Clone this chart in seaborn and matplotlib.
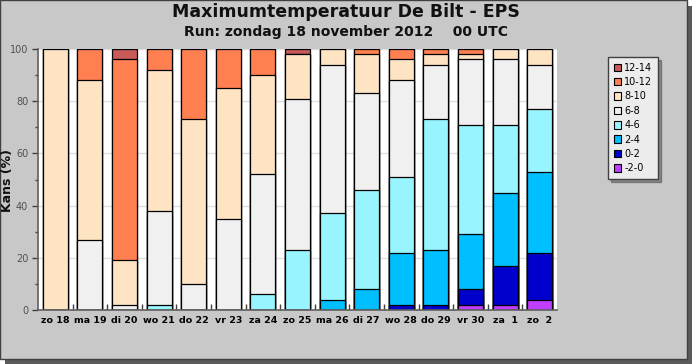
import numpy as np
import pandas as pd
import seaborn as sns
import matplotlib.pyplot as plt
from matplotlib.patches import Patch, Rectangle

days = ["zo 18", "ma 19", "di 20", "wo 21", "do 22", "vr 23", "za 24", "zo 25",
        "ma 26", "di 27", "wo 28", "do 29", "vr 30", "za  1", "zo  2"]

# probability (%) per temperature class, bottom class first
classes = ["-2-0", "0-2", "2-4", "4-6", "6-8", "8-10", "10-12", "12-14"]
c_m2_0 = [0, 0, 0, 0, 0, 0, 0, 0, 0, 0, 0, 0, 2, 2, 4]
c_0_2 = [0, 0, 0, 0, 0, 0, 0, 0, 0, 0, 2, 2, 6, 15, 18]
c_2_4 = [0, 0, 0, 0, 0, 0, 0, 0, 4, 8, 20, 21, 21, 28, 31]
c_4_6 = [0, 0, 0, 2, 0, 0, 6, 23, 33, 38, 29, 50, 42, 26, 24]
c_6_8 = [0, 27, 2, 36, 10, 35, 46, 58, 57, 37, 37, 21, 25, 25, 17]
c_8_10 = [100, 61, 17, 54, 63, 50, 38, 17, 6, 15, 8, 4, 2, 4, 6]
c_10_12 = [0, 12, 77, 8, 27, 15, 10, 0, 0, 2, 4, 2, 2, 0, 0]
c_12_14 = [0, 0, 4, 0, 0, 0, 0, 2, 0, 0, 0, 0, 0, 0, 0]

colors = ["#bf3eff", "#0000cd", "#00bfff", "#98f5ff", "#f0f0f0",
          "#ffe4c4", "#ff7f50", "#c85a5a"]

df = pd.DataFrame({"day": days})
series = [c_m2_0, c_0_2, c_2_4, c_4_6, c_6_8, c_8_10, c_10_12, c_12_14]
for name, vals in zip(classes, series):
    df[name] = vals
cum = df[classes].cumsum(axis=1)

W, H = 692, 364
bg = "#c8c8c8"
fig = plt.figure(figsize=(W / 100, H / 100), dpi=100)
fig.patch.set_facecolor("white")
# panel with shadow
fig.patches.append(Rectangle((5 / W, 0), 687 / W, 1 - 6 / H, transform=fig.transFigure,
                             facecolor="#5a5a5a", edgecolor="none", zorder=-3))
fig.patches.append(Rectangle((0, 5 / H), 687 / W, 1 - 5 / H, transform=fig.transFigure,
                             facecolor=bg, edgecolor="#404040", lw=1, zorder=-2))

ax = fig.add_axes([38 / W, 1 - 310 / H, 519 / W, 261 / H])
ax.set_facecolor("white")

# stacked bars: draw cumulative totals from the top class down
for name, col in reversed(list(zip(classes, colors))):
    sns.barplot(x=df["day"], y=cum[name], color=col, edgecolor="black",
                linewidth=0.9, width=0.72, saturation=1, ax=ax, zorder=2)

ax.set_ylim(0, 100)
ax.set_xlim(-0.5, len(days) - 0.5)
ax.set_yticks(np.arange(0, 101, 20))
ax.set_yticks(np.arange(10, 100, 20), minor=True)
ax.yaxis.grid(True, color="#e0e0e0", lw=1, zorder=0)
ax.set_axisbelow(True)
ax.tick_params(axis="y", labelsize=7, length=4, width=1, color="#404040",
               labelcolor="#505050", pad=3)
ax.tick_params(axis="y", which="minor", length=2, width=1, color="#404040")
ax.set_xticks(range(len(days)))
ax.set_xticklabels(days, fontsize=6.8, fontweight="bold")
ax.set_xticks(np.arange(0.5, len(days) - 0.5, 1), minor=True)
ax.tick_params(axis="x", which="major", length=0, pad=4)
ax.tick_params(axis="x", which="minor", length=4, direction="in", width=1, color="#404040")
ax.set_xlabel("")
ax.set_ylabel("")
for s in ["top", "right"]:
    ax.spines[s].set_visible(False)
for s in ["left", "bottom"]:
    ax.spines[s].set_color("#606060")
    ax.spines[s].set_linewidth(1.2)

fig.text(8 / W, 1 - 180 / H, "Kans (%)", rotation=90, ha="center", va="center",
         fontsize=9, fontweight="bold", color="#111111")
fig.text(0.5, 1 - 12 / H, "Maximumtemperatuur De Bilt - EPS", ha="center", va="center",
         fontsize=12.5, fontweight="bold", color="#111111")
fig.text(0.5, 1 - 32 / H, "Run: zondag 18 november 2012    00 UTC", ha="center", va="center",
         fontsize=10, fontweight="bold", color="#111111")

handles = [Patch(facecolor=c, edgecolor="black", lw=0.8, label=l)
           for l, c in reversed(list(zip(classes, colors)))]
leg = fig.legend(handles=handles, loc="upper left", bbox_to_anchor=(603 / W, 1 - 52 / H),
                 fontsize=7, frameon=True, fancybox=False, shadow=True,
                 handlelength=0.8, handleheight=0.8, handletextpad=0.3,
                 labelspacing=0.45, borderpad=0.6)
leg.get_frame().set_facecolor("#ececec")
leg.get_frame().set_edgecolor("#404040")

plt.savefig("out.png", dpi=100)
plt.close()
